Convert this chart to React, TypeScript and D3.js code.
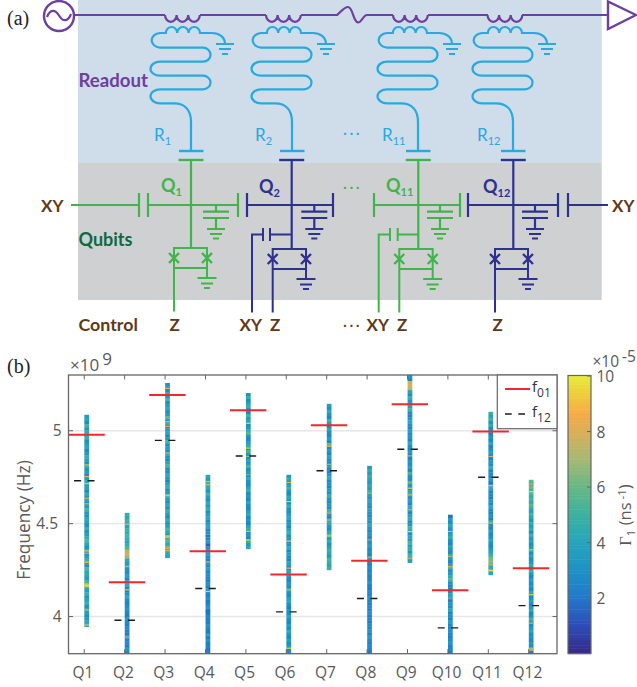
import React from "react";
import * as d3 from "d3";

const qubits = ["Q1","Q2","Q3","Q4","Q5","Q6","Q7","Q8","Q9","Q10","Q11","Q12"];
const f01 = [4.978,4.185,5.192,4.352,5.11,4.226,5.029,4.30,5.142,4.142,4.996,4.26];
const f12 = [4.731,3.98,4.948,4.151,4.864,4.025,4.785,4.097,4.90,3.939,4.75,4.059];
const stripTop = [5.086,4.558,5.257,4.763,5.203,4.763,5.145,4.811,5.30,4.548,5.102,4.736];
const stripBottom = [3.946,3.8,4.316,3.8,4.364,3.8,4.251,3.8,4.29,3.8,4.224,3.8];

const gamma1: number[] = [3.4,3.9,2.8,5.2,3.1,4.4,3.3,4.8,2.9,3.6,4.1,2.6,3.2,4.6,3.5,2.7,4.9,3.1,3.8,2.5,3.3,4.2,3.0,3.7,2.6,4.5,3.2,3.9,2.8,3.4,5.0,3.3,2.9,4.3,3.6,2.7,4.7,3.1,3.5,4.4,5.3,3.8,3.0,4.1,2.8,3.6,4.6,3.2,2.9,5.4,3.9,4.2,3.3,5.1,5.6,4.0,3.4,4.5,3.1,3.8,4.9,2.9,4.2,3.5,2.8,3.3,4.1,3.0];
const gamma2: number[] = [4.6,4.2,5.0,4.4,3.9,4.8,4.3,5.1,4.5,3.8,4.7,5.3,7.2,7.6,6.8,4.2,3.4,4.0,3.1,2.7,3.5,2.6,3.2,4.1,2.8,2.4,3.0,4.3,2.7,2.3,2.9,3.3,2.5,2.2,3.6,2.6,2.1,2.9,2.4,2.0,3.0,2.3,2.7,2.1,3.2,2.5];
const gamma3: number[] = [2.9,3.8,2.6,4.4,3.1,5.2,2.8,3.5,4.1,2.7,3.3,5.5,3.0,4.6,2.6,3.4,4.0,2.5,3.2,5.0,2.9,3.6,2.7,4.5,3.1,2.6,3.9,5.1,3.0,2.8,4.2,3.4,2.4,3.7,4.8,2.9,3.3,5.3,3.5,2.7,4.3,3.1,5.0,3.6,2.8,4.7,3.2,3.9,5.4,4.1,3.3,4.9,5.6,4.2,6.1,5.0,4.4,3.8];
const gamma4: number[] = [4.2,3.4,4.9,3.8,4.4,3.1,5.2,3.6,2.9,4.5,3.3,4.8,2.8,3.7,4.3,2.7,3.5,4.0,2.6,3.2,3.9,2.5,3.4,1.4,3.0,2.4,3.6,2.8,2.3,3.3,2.6,3.7,2.2,2.9,2.5,2.1,3.1,2.4,3.5,2.7,2.2,3.0,2.0,2.6,3.4,2.3,1.9,2.8,2.4,2.1,3.2,2.5,2.0,2.7,2.2,3.3,2.1,2.5,2.0,2.3];
const gamma5: number[] = [3.1,4.5,2.8,3.9,4.8,3.2,2.7,5.0,3.5,4.2,2.9,3.3,4.6,5.4,3.0,2.6,3.8,4.4,2.8,5.1,3.2,2.6,4.0,3.4,5.2,2.9,3.6,2.5,4.3,3.1,2.7,3.8,4.7,2.8,3.3,2.5,4.1,3.0,2.6,3.5,4.4,2.7,3.2,2.4,3.9,4.8,2.9,3.4,2.6,5.0,3.6,4.2];
const gamma6: number[] = [3.4,4.4,2.9,3.8,5.0,3.1,2.6,4.2,3.3,2.8,4.7,3.0,2.5,3.6,4.3,2.7,3.2,2.4,3.9,4.6,2.8,3.4,2.5,3.1,4.4,2.6,3.7,2.9,2.3,4.0,3.2,2.6,3.5,4.8,2.8,2.4,3.3,2.7,4.5,3.0,2.5,3.8,4.1,2.9,2.4,3.4,2.7,4.2,3.1,2.5,3.7,2.8,4.6,3.2,2.6,3.9,2.7,3.3,2.4,2.9];
const gamma7: number[] = [3.8,2.9,4.6,3.2,2.6,5.0,3.5,2.7,4.2,3.1,2.5,3.7,2.8,5.8,2.6,3.3,2.4,4.0,2.9,2.5,3.5,2.7,2.3,3.2,4.4,2.6,3.0,2.4,3.6,2.8,4.8,3.1,2.5,3.4,2.7,5.2,3.0,2.6,3.8,4.5,3.2,2.8,4.1,5.3,3.5,4.6,3.0,3.9,5.0,4.3,3.4,5.4,4.7,4.0,5.2];
const gamma8: number[] = [3.4,4.4,3.6,4.8,3.9,3.2,4.2,3.5,4.6,3.7,3.0,4.1,3.3,2.8,3.9,3.1,2.6,3.6,2.9,4.2,3.2,2.5,3.4,2.8,2.4,3.1,3.7,2.6,2.9,2.3,3.5,2.7,2.2,3.0,2.5,2.9,2.3,2.6,3.3,2.4,2.1,2.8,2.3,3.2,2.5,2.1,2.7,2.3,3.0,2.2,2.5,2.0,2.8,2.4,3.3,2.2,3.6,2.5,2.1,2.7,2.3,2.0];
const gamma9: number[] = [3.2,2.6,7.6,7.9,7.4,3.8,2.7,4.6,3.1,2.5,3.5,4.9,2.8,2.4,3.3,4.2,2.9,2.5,3.7,2.7,3.2,2.4,4.4,3.0,2.6,3.6,2.8,2.3,3.4,2.9,4.0,2.5,5.2,3.1,2.7,5.6,3.3,2.6,4.3,5.0,2.9,3.5,2.7,4.6,3.2,2.5,3.8,4.4,2.8,3.3,5.1,3.6,2.9,4.2,3.4,5.3,3.7,4.5,3.1,5.0,4.3,3.6];
const gamma10: number[] = [1.8,3.6,2.8,4.4,3.3,2.6,3.8,4.6,3.0,2.5,4.0,3.2,2.7,4.8,3.4,2.5,3.7,5.0,2.9,3.3,4.3,5.4,3.1,2.6,2.3,2.8,3.9,2.5,2.2,3.2,2.7,4.1,2.4,2.9,2.2,3.5,2.6,2.3,3.1,2.5,2.1,2.8,3.4,2.3,2.6,2.1];
const gamma11: number[] = [4.8,4.0,5.2,3.1,4.4,2.8,3.6,2.4,3.2,2.6,4.2,2.3,2.9,3.7,2.5,2.2,3.3,2.7,4.6,2.4,2.9,2.2,3.5,1.9,2.6,4.1,2.3,2.8,2.1,3.4,2.5,4.3,2.7,2.2,3.1,2.4,4.5,2.8,2.3,3.6,2.5,2.9,4.2,3.1,2.6,3.4,4.0,5.0,6.2,6.6,5.8,4.4,6.0,4.2];
const gamma12: number[] = [5.6,4.8,6.0,5.0,5.8,4.6,5.4,4.4,5.6,4.6,3.6,5.2,4.2,3.2,4.8,3.5,4.4,2.9,5.1,3.3,4.0,2.8,3.6,4.7,3.0,4.1,2.7,3.4,4.5,2.9,5.0,3.2,2.6,3.9,2.8,3.5,2.5,4.2,3.0,2.6,3.7,2.8,3.3,4.5,2.6,3.1,5.2,3.6,2.7,3.4,4.3,2.8,3.2,2.5,3.6,2.7,6.6,2.4];
const gammaStrips = [gamma1,gamma2,gamma3,gamma4,gamma5,gamma6,gamma7,gamma8,gamma9,gamma10,gamma11,gamma12];

// narrow bright or dark lines on each strip: [frequency in GHz, Γ1 value]
const spikes: [number,number][][] = [
  [[4.817,7.6],[4.754,8.4],[4.715,9.6],[4.637,8.6],[4.607,8.8],[4.354,9.4],[4.341,8.4],[4.294,8.5],[4.292,8.5],[4.175,9.6],[4.168,9.6],[4.161,9.4],[4.036,8.4],[3.955,9.6]],
  [[4.497,8.5],[4.27,7.6],[4.144,9.0],[3.89,7.5]],
  [[5.228,8.5],[5.05,8.5],[5.023,8.0],[4.88,7.0],[4.653,9.6],[4.434,9.8],[4.428,9.8],[4.368,8.5],[4.355,8.2]],
  [[4.727,8.5],[4.709,9.2],[4.434,1.2],[4.294,8.4],[4.135,9.4],[4.03,1.6],[3.9,6.0]],
  [[5.04,9.6],[4.907,9.8],[4.862,7.2],[4.763,6.6],[4.458,8.5],[4.413,9.8]],
  [[4.722,8.5],[4.619,9.6],[4.406,9.6],[4.26,8.5],[4.144,7.0],[3.83,9.8]],
  [[4.916,8.4],[4.557,8.5],[4.52,8.5],[4.434,9.6],[4.82,7.0]],
  [[4.664,7.0],[4.413,7.2],[4.32,8.0]],
  [[4.865,8.5],[4.691,9.8],[4.655,7.8],[4.575,8.5],[4.458,9.6],[4.314,8.5]],
  [[4.458,9.0],[4.323,7.2],[4.269,8.5],[4.1,6.8]],
  [[4.862,8.0],[4.704,9.8],[4.503,8.2],[4.28,7.4],[4.248,9.6]],
  [[4.713,8.5],[4.673,9.6],[4.36,8.5],[4.118,9.4],[3.965,8.5],[3.83,7.2],[3.825,7.2],[3.82,7.2]],
];

const cmapStops = [0,1,2,3,4,5,6,7,8,8.6,9.2,10];
const cmapColors = ["#352a87","#2c4eb8","#2379c9","#1e92c4","#27a5bb","#3eb29e","#68b884","#a9b873","#dcae58","#f6ab48","#efc83c","#e6ee3c"];
const yTicks = [4,4.5,5];
const cbTicks = [2,4,6,8,10];

const axL = 68.5, axR = 557, axT = 375, axB = 653.7;
const x = d3.scaleLinear().domain([0.61,12.7]).range([axL,axR]);
const y = d3.scaleLinear().domain([3.8,5.3]).range([axB,axT]);
const cbScale = d3.scaleLinear().domain([0,10]).range([653.7,376]);
const cmap = d3.scaleLinear<string>().domain(cmapStops).range(cmapColors).clamp(true);

const PURPLE="#6c40a0", CYAN="#27a9e1", GREEN="#3fb54a", NAVY="#2e3191", BROWN="#5f3a17", DGREEN="#0c6b3f";
const UI="'Lato','Open Sans',sans-serif", AX="'Open Sans','Noto Sans',sans-serif", GRAY="#595959";

const Resonator=({dx}:{dx:number})=>{
  const s=`M${225+dx},44C${225+dx},37 ${219+dx},33 ${212+dx},33H${200+dx}`
   +`a5.7,6 0 0 0 -11.4,0a5.7,6 0 0 0 -11.4,0a5.7,6 0 0 0 -11.4,0`
   +`H${160+dx}A9.5,7.4 0 0 0 ${160+dx},47.7H${203+dx}A7.5,7 0 0 1 ${203+dx},61.7H${160+dx}`
   +`A9.5,7 0 0 0 ${160+dx},75.7H${203+dx}A7.5,6.8 0 0 1 ${203+dx},89.3H${160+dx}A9.5,7 0 0 0 ${160+dx},103.3H${174+dx}`
   +`C${185+dx},103.3 ${191+dx},110 ${191+dx},122V151`;
  return <g>
    <path d={s} fill="none" stroke={CYAN} strokeWidth={2.2}/>
    <path d={`M${179+dx},151H${203.5+dx}`} stroke={CYAN} strokeWidth={2.4}/>
    <path d={`M${216+dx},44H${234+dx}M${219+dx},49H${231+dx}M${222+dx},54H${228+dx}`} stroke={CYAN} strokeWidth={2}/>
  </g>;
};

const Coil=({x0}:{x0:number})=>(
  <path d={`M${x0},15a5.8,6.8 0 0 0 11.6,0a5.8,6.8 0 0 0 11.6,0a5.8,6.8 0 0 0 11.6,0`} fill="none" stroke={PURPLE} strokeWidth={2.2}/>
);

type QProps={cx:number;c:string;left:number;right:number;shunt:number;squidTop:number;zEnd:number;xy?:[number,number,number]};
const Qubit=({cx,c,left,right,shunt,squidTop,zEnd,xy}:QProps)=>{
  const L=cx+left,R=cx+right,S=cx+shunt,b=squidTop+20;
  const X=(px:number)=>`M${px-5},${squidTop+5}L${px+5},${squidTop+15}M${px+5},${squidTop+5}L${px-5},${squidTop+15}`;
  return <g stroke={c} fill="none" strokeWidth={2}>
    <path d={`M${cx-12.5},160H${cx+12.5}`} strokeWidth={2.4}/>
    <path d={`M${cx},160V${squidTop}`} strokeWidth={2.2}/>
    <path d={`M${S},205V211.7M${S-13},211.7H${S+13}M${S-13},218H${S+13}M${S},218V229`} strokeWidth={2.2}/>
    <path d={`M${S-9},229H${S+9}M${S-6},234H${S+6}M${S-3},238.5H${S+3}`}/>
    <path d={`M${L},${zEnd}V${squidTop}H${R}V${b}M${L},${b}H${R}M${R},${b}V${b+10}`} strokeWidth={2}/>
    <path d={X(L)+X(R)} strokeWidth={2.4}/>
    <path d={`M${R-9.5},${b+10}H${R+9.5}M${R-6},${b+15.5}H${R+6}M${R-3},${b+20}H${R+3}`}/>
    {xy && <path d={`M${cx},234.5H${xy[0]}M${xy[0]},228V241M${xy[1]},228V241M${xy[1]},234.5H${xy[2]}V${zEnd}`}/>}
  </g>;
};

const Sub=({x:tx,y:ty,base,sub,fill,size=17,subSize=11,weight=400,font=UI}:{x:number;y:number;base:string;sub:string;fill:string;size?:number;subSize?:number;weight?:number;font?:string})=>(
  <text x={tx} y={ty} fill={fill} fontSize={size} fontWeight={weight} fontFamily={font}>{base}<tspan dy={4} fontSize={subSize}>{sub}</tspan></text>
);
const Lab=({x:tx,y:ty,t,c=BROWN,size=17}:{x:number;y:number;t:string;c?:string;size?:number})=>(
  <text x={tx} y={ty} fill={c} fontSize={size} fontWeight={700} fontFamily={UI}>{t}</text>
);

export default function App(){
  const xs=qubits.map((_,i)=>x(i+1));
  const strips=gammaStrips.map((vals,i)=>{
    const band=d3.scaleBand<number>().domain(d3.range(vals.length)).range([y(stripTop[i]),y(stripBottom[i])]);
    return {vals,band};
  });
  return (
    <svg width={637} height={687} viewBox="0 0 637 687" style={{position:"absolute",left:0,top:0,background:"#fff"}}>
      <rect x={78} y={0} width={523.7} height={163} fill="#cfdcea"/>
      <rect x={78} y={163} width={523.7} height={137} fill="#cfd0d2"/>
      <text x={7} y={25} fontFamily="'Liberation Serif',serif" fontSize={20} fill="#222">(a)</text>
      <text x={7} y={373} fontFamily="'Liberation Serif',serif" fontSize={20} fill="#222">(b)</text>

      {/* feedline */}
      <circle cx={59} cy={16} r={15} fill="#fff" stroke={PURPLE} strokeWidth={2.4}/>
      <path d="M47,17C50,9 55,9 59,15.5C63,22 68,22 71,14" fill="none" stroke={PURPLE} strokeWidth={2.2}/>
      <path d="M75,15H165M200,15H266M301,15H337C341,12 344,7 348,7C353,7 353,22 358,22.5C362,22.5 363,15 367,15H393M428,15H488M522,15H608" fill="none" stroke={PURPLE} strokeWidth={2.2}/>
      {[165,266,393,487.5].map(c=><Coil key={c} x0={c}/>)}
      <path d="M608,1.5V29L636,15Z" fill="#fff" stroke={PURPLE} strokeWidth={2.4}/>

      {[0,101,227,322].map(d=><Resonator key={d} dx={d}/>)}

      <Sub x={154} y={141} base="R" sub="1" fill={CYAN}/>
      <Sub x={255} y={141} base="R" sub="2" fill={CYAN}/>
      <Sub x={382} y={141} base="R" sub="11" fill={CYAN}/>
      <Sub x={477} y={141} base="R" sub="12" fill={CYAN}/>
      <text x={343} y={138} fill={CYAN} fontFamily={UI} fontSize={15} letterSpacing={2.5}>···</text>
      <text x={343} y={192} fill={GREEN} fontFamily={UI} fontSize={15} letterSpacing={2.5}>···</text>

      {/* horizontal couplers */}
      <g fill="none" strokeWidth={2.2}>
        <path d="M71,205H139M139,193V217M148,193V217M148,205H238M238,193V217" stroke={GREEN}/>
        <path d="M247,193V217M247,205H333M333,193V217" stroke={NAVY}/>
        <path d="M374,193V217M374,205H460M460,193V217" stroke={GREEN}/>
        <path d="M468,193V217M468,205H558M558,193V217M568,193V217M568,205H608" stroke={NAVY}/>
      </g>
      <Qubit cx={191} c={GREEN} left={-17} right={16} shunt={25} squidTop={248} zEnd={311.5}/>
      <Qubit cx={291.7} c={NAVY} left={-19} right={14.3} shunt={22.6} squidTop={249} zEnd={312.5} xy={[270,263,252]}/>
      <Qubit cx={418.3} c={GREEN} left={-19} right={14.4} shunt={21.7} squidTop={249} zEnd={312.5} xy={[397.7,390,378.7]}/>
      <Qubit cx={513.3} c={NAVY} left={-18.3} right={14.7} shunt={21.7} squidTop={249} zEnd={312.5}/>

      <Sub x={161} y={192} base="Q" sub="1" fill={GREEN} weight={700} size={18}/>
      <Sub x={259} y={193} base="Q" sub="2" fill={NAVY} weight={700} size={18}/>
      <Sub x={386} y={192} base="Q" sub="11" fill={GREEN} weight={700} size={18}/>
      <Sub x={483} y={193} base="Q" sub="12" fill={NAVY} weight={700} size={18}/>

      <Lab x={78.5} y={87} t="Readout" c={PURPLE} size={18.6}/>
      <Lab x={78.5} y={246} t="Qubits" c={DGREEN} size={18}/>
      <Lab x={78.5} y={331} t="Control" size={17.8}/>
      <Lab x={41} y={212} t="XY"/>
      <Lab x={612} y={212} t="XY"/>
      {([["Z",169.5],["XY",239.5],["Z",270],["XY",366.5],["Z",397],["Z",492.5]] as [string,number][]).map(([t,p],i)=><Lab key={i} x={p} y={331} t={t}/>)}
      <text x={343} y={330} fill={BROWN} fontFamily={UI} fontSize={15} letterSpacing={2.5}>···</text>

      {/* panel b */}
      {yTicks.map(t=><line key={t} x1={axL} x2={axR} y1={y(t)} y2={y(t)} stroke="#e6e6e6" strokeWidth={1.4}/>)}
      {strips.map(({vals,band},i)=>(
        <g key={i}>
          {vals.map((v,j)=><rect key={j} x={xs[i]+0.1} y={band(j)} width={4.7} height={band.bandwidth()+0.3} fill={cmap(v)}/>)}
          {spikes[i].map(([f,v],j)=><rect key={j} x={xs[i]+0.1} y={y(f)-0.5} width={4.7} height={1.1} fill={cmap(v)}/>)}
        </g>
      ))}
      {qubits.map((_,i)=><g key={i}>
        <line x1={xs[i]+2.3-18.2} x2={xs[i]+2.3+18.2} y1={y(f01[i])} y2={y(f01[i])} stroke="#f0282d" strokeWidth={2}/>
        <line x1={xs[i]-10.2} x2={xs[i]+10.3} y1={y(f12[i])} y2={y(f12[i])} stroke="#1a1a1a" strokeWidth={1.4} strokeDasharray="7 6.5"/>
      </g>)}
      <rect x={axL} y={axT} width={axR-axL} height={axB-axT} fill="none" stroke="#666" strokeWidth={1.3}/>
      {xs.map((p,i)=><g key={i}>
        <line x1={p} x2={p} y1={axB} y2={axB-4.5} stroke="#666" strokeWidth={1}/>
        <line x1={p} x2={p} y1={axT} y2={axT+4.5} stroke="#666" strokeWidth={1}/>
        <text x={p-1.3} y={678} textAnchor="middle" fontFamily={AX} fontSize={15.5} fill={GRAY}>{qubits[i]}</text>
      </g>)}
      {yTicks.map(t=><g key={t}>
        <line x1={axL} x2={axL+4.5} y1={y(t)} y2={y(t)} stroke="#666" strokeWidth={1}/>
        <line x1={axR} x2={axR-4.5} y1={y(t)} y2={y(t)} stroke="#666" strokeWidth={1}/>
        <text x={t===4.5?58:61.5} y={y(t)+5.5} textAnchor="end" fontFamily={AX} fontSize={15.5} fill={GRAY}>{d3.format("~g")(t)}</text>
      </g>)}
      <text transform="translate(30,520) rotate(-90)" textAnchor="middle" fontFamily={AX} fontSize={17.3} fill={GRAY}>Frequency (Hz)</text>
      <text x={70} y={371} fontFamily={AX} fontSize={17} fill={GRAY}>×10<tspan dy={-6} dx={3}>9</tspan></text>

      {/* legend */}
      <rect x={497.3} y={375} width={59.7} height={53.7} fill="#fff" stroke="#666" strokeWidth={1.2}/>
      <line x1={505} x2={530} y1={389} y2={389} stroke="#f0282d" strokeWidth={2}/>
      <line x1={505} x2={525} y1={414} y2={414} stroke="#1a1a1a" strokeWidth={1.4} strokeDasharray="6.7 6.6"/>
      <text x={532} y={392} fontFamily={AX} fontSize={15} fill="#333">f<tspan dy={5} fontSize={12}>01</tspan></text>
      <text x={532} y={417} fontFamily={AX} fontSize={15} fill="#333">f<tspan dy={5} fontSize={12}>12</tspan></text>

      {/* colorbar */}
      {d3.range(0,10,0.1).map(v=><rect key={v} x={568} y={cbScale(v+0.1)} width={23} height={cbScale(v)-cbScale(v+0.1)+0.5} fill={cmap(v)}/>)}
      <rect x={568} y={375.5} width={23} height={278} fill="none" stroke="#666" strokeWidth={1.2}/>
      {cbTicks.map(t=><g key={t}>
        <line x1={591} x2={587} y1={cbScale(t)} y2={cbScale(t)} stroke="#666" strokeWidth={1}/>
        <text x={596.5} y={cbScale(t)+6} fontFamily={AX} fontSize={15.5} fill={GRAY}>{t}</text>
      </g>)}
      <text x={592.5} y={367} fontFamily={AX} fontSize={15.5} fill={GRAY}>×10<tspan dy={-5} dx={3}>-5</tspan></text>
      <text transform="translate(631,515) rotate(-90)" textAnchor="middle" fontFamily={AX} fontSize={16.5} fill={GRAY}>
        <tspan fontFamily="'Liberation Serif',serif">Γ</tspan><tspan dy={4} fontSize={11.5}>1</tspan><tspan dy={-4}> (ns</tspan><tspan dy={-5} fontSize={11.5}> -1</tspan><tspan dy={5}>)</tspan>
      </text>
    </svg>
  );
}
